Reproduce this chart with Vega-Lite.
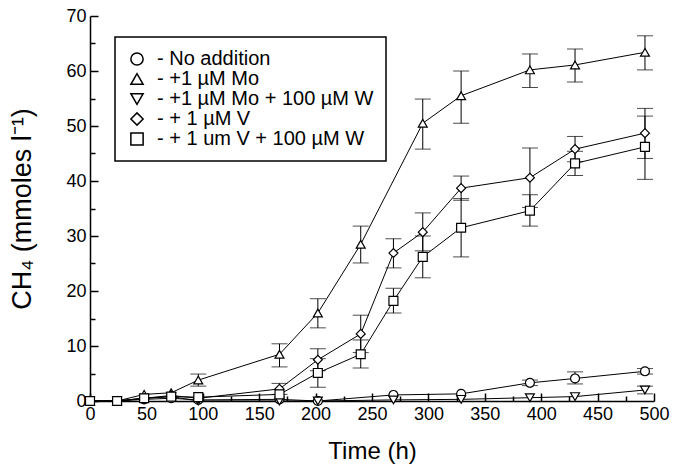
{
  "$schema": "https://vega.github.io/schema/vega-lite/v6.json",
  "width": 564,
  "height": 385,
  "autosize": {"type": "none"},
  "padding": {"left": 90, "top": 16, "right": 23, "bottom": 69},
  "background": "white",
  "config": {
    "view": {"stroke": null},
    "font": "Liberation Sans",
    "axis": {"grid": false, "domainColor": "black", "domainWidth": 1.5, "tickColor": "black", "tickWidth": 1.5, "labelColor": "black", "titleColor": "black", "labelFont": "Liberation Sans", "titleFont": "Liberation Sans", "labelFontSize": 18, "titleFontWeight": "normal"},
    "legend": {"strokeWidth": 1.5}
  },
  "datasets": {
    "pts": [
      {"s": "- No addition", "t": 0, "v": 0},
      {"s": "- No addition", "t": 24, "v": 0},
      {"s": "- No addition", "t": 48, "v": 0.3},
      {"s": "- No addition", "t": 72, "v": 0.5},
      {"s": "- No addition", "t": 96, "v": 0.2},
      {"s": "- No addition", "t": 168, "v": 0.3},
      {"s": "- No addition", "t": 202, "v": 0},
      {"s": "- No addition", "t": 269, "v": 1.1},
      {"s": "- No addition", "t": 329, "v": 1.3},
      {"s": "- No addition", "t": 390, "v": 3.3, "lo": 2.8, "hi": 3.8},
      {"s": "- No addition", "t": 430, "v": 4.1, "lo": 3.1, "hi": 5.3},
      {"s": "- No addition", "t": 492, "v": 5.4, "lo": 4.9, "hi": 5.9},
      {"s": "- +1 µM Mo", "t": 0, "v": 0},
      {"s": "- +1 µM Mo", "t": 24, "v": 0},
      {"s": "- +1 µM Mo", "t": 48, "v": 1.2},
      {"s": "- +1 µM Mo", "t": 72, "v": 1.5},
      {"s": "- +1 µM Mo", "t": 96, "v": 3.8, "lo": 2.7, "hi": 4.9},
      {"s": "- +1 µM Mo", "t": 168, "v": 8.5, "lo": 6.2, "hi": 10.4},
      {"s": "- +1 µM Mo", "t": 202, "v": 16, "lo": 13.3, "hi": 18.6},
      {"s": "- +1 µM Mo", "t": 240, "v": 28.5, "lo": 25.1, "hi": 31.8},
      {"s": "- +1 µM Mo", "t": 295, "v": 50.5, "lo": 45.8, "hi": 54.9},
      {"s": "- +1 µM Mo", "t": 329, "v": 55.5, "lo": 50.5, "hi": 60},
      {"s": "- +1 µM Mo", "t": 390, "v": 60.2, "lo": 57, "hi": 63.1},
      {"s": "- +1 µM Mo", "t": 430, "v": 61.1, "lo": 58, "hi": 64},
      {"s": "- +1 µM Mo", "t": 492, "v": 63.4, "lo": 60.2, "hi": 66.4},
      {"s": "- +1 µM Mo + 100 µM W", "t": 0, "v": 0},
      {"s": "- +1 µM Mo + 100 µM W", "t": 24, "v": 0},
      {"s": "- +1 µM Mo + 100 µM W", "t": 48, "v": 0.5},
      {"s": "- +1 µM Mo + 100 µM W", "t": 72, "v": 0.8},
      {"s": "- +1 µM Mo + 100 µM W", "t": 96, "v": 0},
      {"s": "- +1 µM Mo + 100 µM W", "t": 168, "v": 0},
      {"s": "- +1 µM Mo + 100 µM W", "t": 202, "v": 0},
      {"s": "- +1 µM Mo + 100 µM W", "t": 269, "v": 0.2},
      {"s": "- +1 µM Mo + 100 µM W", "t": 329, "v": 0.3},
      {"s": "- +1 µM Mo + 100 µM W", "t": 390, "v": 0.6},
      {"s": "- +1 µM Mo + 100 µM W", "t": 430, "v": 0.8},
      {"s": "- +1 µM Mo + 100 µM W", "t": 492, "v": 2.0, "lo": 1.3, "hi": 2.7},
      {"s": "- + 1 µM V", "t": 0, "v": 0},
      {"s": "- + 1 µM V", "t": 24, "v": 0},
      {"s": "- + 1 µM V", "t": 48, "v": 0.5},
      {"s": "- + 1 µM V", "t": 72, "v": 1.0},
      {"s": "- + 1 µM V", "t": 96, "v": 0.5},
      {"s": "- + 1 µM V", "t": 168, "v": 2.2, "lo": 1.2, "hi": 3.2},
      {"s": "- + 1 µM V", "t": 202, "v": 7.5, "lo": 5.5, "hi": 9.5},
      {"s": "- + 1 µM V", "t": 240, "v": 12.2, "lo": 8.8, "hi": 15.6},
      {"s": "- + 1 µM V", "t": 269, "v": 26.9, "lo": 24.2, "hi": 29.5},
      {"s": "- + 1 µM V", "t": 295, "v": 30.7, "lo": 27.3, "hi": 34.2},
      {"s": "- + 1 µM V", "t": 329, "v": 38.7, "lo": 36.5, "hi": 40.9},
      {"s": "- + 1 µM V", "t": 390, "v": 40.6, "lo": 35.2, "hi": 46},
      {"s": "- + 1 µM V", "t": 430, "v": 45.8, "lo": 43.5, "hi": 48.1},
      {"s": "- + 1 µM V", "t": 492, "v": 48.7, "lo": 44.1, "hi": 53.2},
      {"s": "- + 1 um V + 100 µM W", "t": 0, "v": 0},
      {"s": "- + 1 um V + 100 µM W", "t": 24, "v": 0},
      {"s": "- + 1 um V + 100 µM W", "t": 48, "v": 0.5},
      {"s": "- + 1 um V + 100 µM W", "t": 72, "v": 0.8},
      {"s": "- + 1 um V + 100 µM W", "t": 96, "v": 0.7},
      {"s": "- + 1 um V + 100 µM W", "t": 168, "v": 1.2},
      {"s": "- + 1 um V + 100 µM W", "t": 202, "v": 5.1, "lo": 2.5, "hi": 7.7},
      {"s": "- + 1 um V + 100 µM W", "t": 240, "v": 8.5, "lo": 6, "hi": 11.1},
      {"s": "- + 1 um V + 100 µM W", "t": 269, "v": 18.2, "lo": 16, "hi": 20.5},
      {"s": "- + 1 um V + 100 µM W", "t": 295, "v": 26.2, "lo": 22.4, "hi": 30},
      {"s": "- + 1 um V + 100 µM W", "t": 329, "v": 31.5, "lo": 26.2, "hi": 36.8},
      {"s": "- + 1 um V + 100 µM W", "t": 390, "v": 34.6, "lo": 31.8, "hi": 37.5},
      {"s": "- + 1 um V + 100 µM W", "t": 430, "v": 43.2, "lo": 41, "hi": 45.4},
      {"s": "- + 1 um V + 100 µM W", "t": 492, "v": 46.2, "lo": 40.3, "hi": 51.8}
    ]
  },
  "data": {"name": "pts"},
  "encoding": {
    "x": {
      "field": "t", "type": "quantitative",
      "scale": {"domain": [0, 500], "nice": false},
      "axis": {
        "title": "Time (h)", "titlePadding": 13, "titleFontSize": 24, "titleFontWeight": "normal",
        "values": [0, 25, 50, 75, 100, 125, 150, 175, 200, 225, 250, 275, 300, 325, 350, 375, 400, 425, 450, 475, 500],
        "labelExpr": "datum.value % 50 === 0 ? datum.label : ''",
        "tickSize": {"condition": {"test": "datum.value % 50 === 0", "value": -8}, "value": -5},
        "labelPadding": 12, "labelFlush": false, "labelOverlap": false
      }
    },
    "y": {
      "field": "v", "type": "quantitative",
      "scale": {"domain": [0, 70], "nice": false},
      "axis": {
        "title": "CH₄ (mmoles l⁻¹)", "titlePadding": 29, "titleFontSize": 27, "titleFontWeight": "normal",
        "values": [0, 5, 10, 15, 20, 25, 30, 35, 40, 45, 50, 55, 60, 65, 70],
        "labelExpr": "datum.value % 10 === 0 ? datum.label : ''",
        "tickSize": {"condition": {"test": "datum.value % 10 === 0", "value": -8}, "value": -5},
        "labelPadding": 12, "labelFlush": false, "labelOverlap": false
      }
    }
  },
  "layer": [
    {
      "mark": {"type": "line", "color": "black", "strokeWidth": 1},
      "encoding": {"detail": {"field": "s"}, "order": {"field": "t"}}
    },
    {
      "transform": [{"filter": "isValid(datum.lo)"}],
      "mark": {"type": "errorbar", "ticks": {"size": 16, "color": "black", "thickness": 1}, "rule": {"color": "black", "strokeWidth": 1}},
      "encoding": {
        "y": {"field": "lo", "type": "quantitative"},
        "y2": {"field": "hi"}
      }
    },
    {
      "mark": {"type": "point", "filled": true, "fill": "white", "stroke": "black", "strokeWidth": 1.2, "size": 80, "opacity": 1, "clip": false},
      "encoding": {
        "shape": {
          "field": "s", "type": "nominal",
          "scale": {
            "domain": ["- No addition", "- +1 µM Mo", "- +1 µM Mo + 100 µM W", "- + 1 µM V", "- + 1 um V + 100 µM W"],
            "range": ["circle", "triangle-up", "triangle-down", "diamond", "square"]
          },
          "legend": {
            "title": null, "orient": "none", "legendX": 25, "legendY": 21,
            "strokeColor": "black", "padding": 12, "fillColor": "white",
            "labelFontSize": 20, "labelFont": "Liberation Sans", "labelColor": "black", "labelLimit": 0,
            "symbolSize": 150,
            "rowPadding": 0, "labelOffset": 10,
            "encode": {"symbols": {"update": {"fill": {"value": "white"}, "stroke": {"value": "black"}, "strokeWidth": {"value": 1.2}, "opacity": {"value": 1}}}}
          }
        }
      }
    }
  ]
}
